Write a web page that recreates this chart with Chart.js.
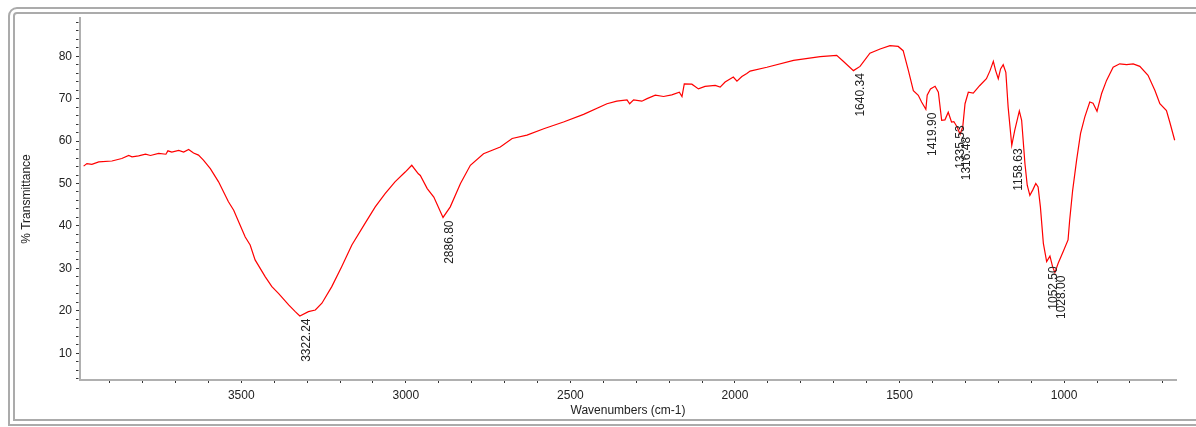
<!DOCTYPE html>
<html>
<head>
    <title>FTIR Spectrum</title>
    <script src="https://cdn.jsdelivr.net/npm/chart.js"></script>
    <style>
        body {
            margin: 0;
            background-color: white;
            font-family: "Liberation Sans", Arial, sans-serif;
        }

        #wrap {
            position: relative;
            width: 1196px;
            height: 427px;
            overflow: hidden;
        }

        #frame {
            position: absolute;
            left: 8px;
            top: 7px;
            width: 1210px;
            height: 419px;
            box-sizing: border-box;
            border: 7px double #ababab;
            border-top-left-radius: 9px;
        }

        canvas {
            position: absolute;
            left: 0;
            top: 0;
        }
    </style>
</head>
<body>
    <div id="wrap">
        <div id="frame"></div>
        <canvas id="spectrum" width="1196" height="427"></canvas>
    </div>

    <script>
        // wavenumber (cm-1) and % transmittance
        const wavenumbers = [
            3979, 3969, 3954, 3933, 3893, 3863, 3842, 3832, 3812, 3791,
            3776, 3751, 3729, 3723, 3711, 3690, 3675, 3660, 3645, 3630,
            3615, 3594, 3569, 3539, 3523, 3508, 3488, 3473, 3458, 3427,
            3407, 3387, 3356, 3336, 3322, 3296, 3275, 3255, 3225, 3195,
            3164, 3124, 3093, 3063, 3033, 3002, 2982, 2962, 2956, 2935,
            2915, 2887, 2865, 2834, 2804, 2764, 2713, 2677, 2632, 2581,
            2521, 2460, 2389, 2359, 2328, 2320, 2308, 2283, 2267, 2242,
            2217, 2192, 2169, 2161, 2154, 2131, 2111, 2091, 2060, 2045,
            2030, 2005, 1994, 1979, 1964, 1954, 1903, 1822, 1741, 1691,
            1671, 1640, 1620, 1590, 1559, 1529, 1504, 1489, 1473, 1458,
            1443, 1433, 1420, 1416, 1406, 1392, 1382, 1372, 1362, 1352,
            1342, 1335, 1325, 1316, 1308, 1301, 1291, 1276, 1256, 1236,
            1225, 1215, 1208, 1200, 1193, 1185, 1177, 1170, 1159, 1150,
            1136, 1129, 1119, 1112, 1104, 1095, 1086, 1079, 1072, 1063,
            1053, 1043, 1035, 1028, 1018, 1003, 988, 983, 974, 962,
            950, 937, 922, 912, 900, 886, 871, 851, 831, 810,
            790, 770, 745, 724, 709, 689, 679, 664
        ];

        const transmittance = [
            54.1, 54.7, 54.5, 55.1, 55.3, 55.9, 56.6, 56.3, 56.5, 56.9,
            56.6, 57.1, 56.9, 57.7, 57.4, 57.8, 57.4, 58.0, 57.2, 56.7,
            55.5, 53.5, 50.4, 45.7, 43.7, 41.0, 37.4, 35.5, 32.0, 28.0,
            25.7, 24.1, 21.4, 19.8, 18.8, 19.8, 20.2, 21.8, 25.7, 30.4,
            35.5, 40.6, 44.5, 47.6, 50.4, 52.7, 54.3, 52.3, 51.9, 48.8,
            46.8, 42.0, 44.5, 50.0, 54.3, 57.0, 58.6, 60.6, 61.4, 62.9,
            64.5, 66.3, 68.8, 69.4, 69.7, 68.8, 69.7, 69.4, 70.0, 70.8,
            70.5, 70.9, 71.5, 70.5, 73.5, 73.4, 72.3, 72.9, 73.1, 72.7,
            73.9, 75.1, 74.1, 75.2, 75.9, 76.5, 77.4, 79.0, 79.9, 80.2,
            78.8, 76.6, 77.6, 80.7, 81.7, 82.5, 82.3, 81.3, 76.6, 71.9,
            70.8, 69.2, 67.5, 70.8, 72.3, 72.9, 71.5, 64.9, 65.0, 66.8,
            64.5, 64.6, 63.3, 61.6, 63.3, 68.8, 71.5, 71.3, 73.1, 74.7,
            76.6, 78.8, 76.6, 74.7, 77.0, 78.0, 76.2, 68.0, 59.0, 62.5,
            67.1, 64.9, 54.7, 49.6, 47.2, 48.5, 50.0, 49.2, 44.5, 35.9,
            31.6, 32.9, 30.4, 29.0, 31.2, 33.9, 36.7, 41.4, 48.4, 55.5,
            61.8, 65.7, 69.2, 68.9, 67.0, 71.2, 74.3, 77.4, 78.2, 78.0,
            78.2, 77.6, 75.5, 71.9, 68.8, 67.2, 64.5, 60.2
        ];

        // peak annotations
        const peakLabels = ['3322.24', '2886.80', '1640.34', '1419.90', '1335.53', '1316.48', '1158.63', '1052.50', '1028.00'];
        const peakX = [3322.24, 2886.80, 1640.34, 1419.90, 1335.53, 1316.48, 1158.63, 1052.50, 1028.00];
        const peakY = [18.9, 42.0, 76.7, 67.4, 64.4, 61.7, 59.0, 31.2, 29.0];

        // axis tick labels
        const xTickLabels = [3500, 3000, 2500, 2000, 1500, 1000];
        const yTickLabels = [10, 20, 30, 40, 50, 60, 70, 80];

        const xMinorTicks = [];
        for (let v = 700; v <= 3900; v += 100) xMinorTicks.push(v);
        const yMinorTicks = [];
        for (let v = 4; v <= 88; v += 2) yMinorTicks.push(v);

        const points = wavenumbers.map((w, i) => ({ x: w, y: transmittance[i] }));

        // minor ticks drawn shorter by cutting the tick line with a dash
        const minorDash = (labels) => (c) => (c.tick && labels.includes(c.tick.value)) ? [] : [2.5, 30];

        const peakLabelPlugin = {
            id: 'peakLabels',
            afterDatasetsDraw(chart) {
                const ctx = chart.ctx;
                const xs = chart.scales.x;
                const ys = chart.scales.y;
                ctx.save();
                ctx.fillStyle = '#222';
                ctx.font = '12px "Liberation Sans", Arial, sans-serif';
                peakLabels.forEach((label, i) => {
                    const px = xs.getPixelForValue(peakX[i]);
                    const py = ys.getPixelForValue(peakY[i]);
                    ctx.save();
                    ctx.translate(px + 1, py + 3);
                    ctx.rotate(-Math.PI / 2);
                    ctx.textAlign = 'right';
                    ctx.textBaseline = 'top';
                    ctx.fillText(label, 0, 0);
                    ctx.restore();
                });
                ctx.restore();
            }
        };

        const tickFont = { family: '"Liberation Sans", Arial, sans-serif', size: 12 };

        const ctx = document.getElementById('spectrum').getContext('2d');
        new Chart(ctx, {
            type: 'line',
            data: {
                datasets: [
                    {
                        label: 'Spectrum',
                        data: points,
                        borderColor: '#ff0000',
                        borderWidth: 1.2,
                        pointRadius: 0,
                        fill: false,
                        tension: 0
                    }
                ]
            },
            options: {
                responsive: false,
                devicePixelRatio: 1,
                animation: false,
                layout: {
                    padding: { left: 0, top: 18, right: 20, bottom: 0 }
                },
                plugins: {
                    legend: { display: false },
                    tooltip: { enabled: false }
                },
                scales: {
                    x: {
                        type: 'linear',
                        reverse: true,
                        min: 660,
                        max: 3990,
                        afterBuildTicks: (scale) => {
                            scale.ticks = xMinorTicks.map(v => ({ value: v }));
                        },
                        afterFit: (scale) => {
                            scale.height = 47;
                        },
                        ticks: {
                            autoSkip: false,
                            maxRotation: 0,
                            padding: 5,
                            color: '#222',
                            font: tickFont,
                            callback: (value) => xTickLabels.includes(value) ? String(value) : ''
                        },
                        grid: {
                            drawOnChartArea: false,
                            drawTicks: true,
                            tickLength: 3,
                            tickColor: '#333',
                            tickBorderDash: minorDash(xTickLabels)
                        },
                        border: {
                            color: '#b0b0b0',
                            width: 2
                        },
                        title: {
                            display: true,
                            text: 'Wavenumbers (cm-1)',
                            color: '#222',
                            font: tickFont,
                            padding: { top: 0, bottom: 9 }
                        }
                    },
                    y: {
                        min: 3.7,
                        max: 89,
                        afterBuildTicks: (scale) => {
                            scale.ticks = yMinorTicks.map(v => ({ value: v }));
                        },
                        afterFit: (scale) => {
                            scale.width = 80;
                        },
                        ticks: {
                            autoSkip: false,
                            padding: 4,
                            color: '#222',
                            font: tickFont,
                            callback: (value) => yTickLabels.includes(value) ? String(value) : ''
                        },
                        grid: {
                            drawOnChartArea: false,
                            drawTicks: true,
                            tickLength: 4,
                            tickColor: '#333',
                            tickBorderDash: minorDash(yTickLabels)
                        },
                        border: {
                            color: '#b0b0b0',
                            width: 2
                        },
                        title: {
                            display: true,
                            text: '% Transmittance',
                            color: '#222',
                            font: tickFont,
                            padding: { top: 19, bottom: 0 }
                        }
                    }
                }
            },
            plugins: [peakLabelPlugin]
        });
    </script>
</body>
</html>
